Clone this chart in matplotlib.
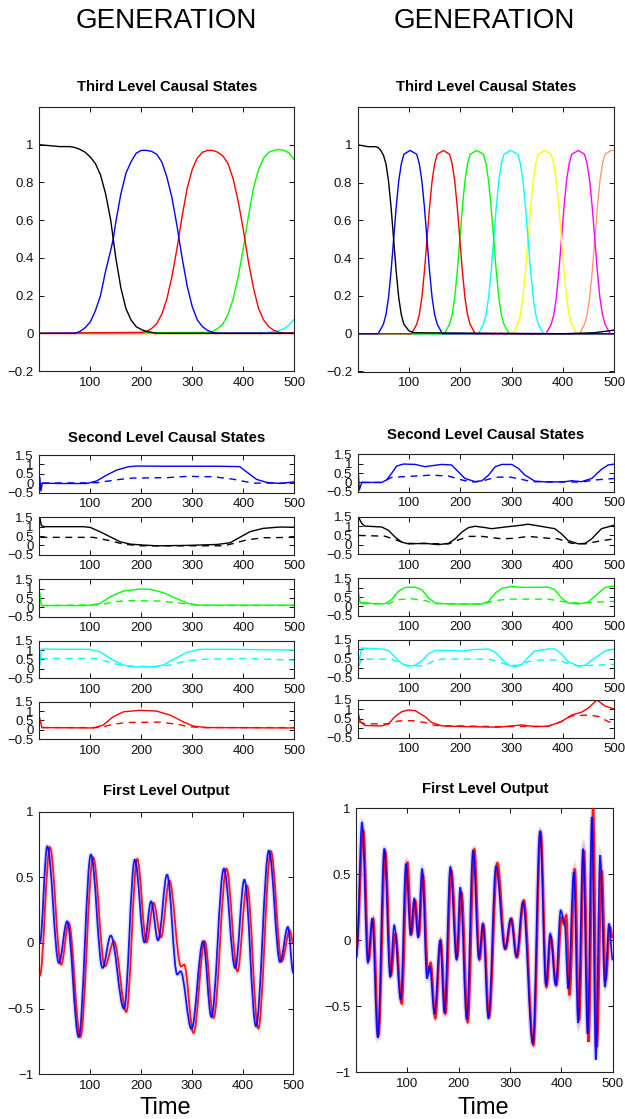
"""Generation traces of a three-level hierarchical model: third level causal
states, second level causal states (solid = states, dashed = causes) and
the first level output, for a slow (left) and a fast (right) sequence."""

import matplotlib
matplotlib.use("Agg")
import matplotlib.pyplot as plt
from matplotlib.path import Path
from matplotlib.patches import PathPatch

plt.rcParams["font.family"] = ["Liberation Sans", "DejaVu Sans"]

W, H = 625, 1119
X_TICKS = [100, 200, 300, 400, 500]
MINUS = "\u2212"

# ---------------------------------------------------------------- third level
# slow sequence (left)
l3_black_t = [0, 20, 40, 60, 70, 80, 90, 100, 110, 120, 130, 140, 145, 150, 160, 170, 180, 190, 200, 210, 230, 500]
l3_black_v = [1.0, 0.995, 0.99, 0.99, 0.985, 0.975, 0.96, 0.935, 0.9, 0.84, 0.74, 0.6, 0.5, 0.4, 0.24, 0.13, 0.07, 0.035, 0.02, 0.01, 0.0, 0.0]
l3_blue_t = [0, 70, 80, 90, 100, 110, 120, 130, 140, 145, 150, 160, 170, 180, 190, 200, 210, 220, 230, 240, 250, 260, 270, 280, 290, 300, 310, 320, 330, 340, 350, 500]
l3_blue_v = [0.0, 0.0, 0.01, 0.03, 0.06, 0.12, 0.2, 0.33, 0.44, 0.5, 0.59, 0.74, 0.85, 0.91, 0.955, 0.97, 0.97, 0.965, 0.95, 0.91, 0.83, 0.72, 0.57, 0.4, 0.25, 0.14, 0.07, 0.035, 0.015, 0.005, 0.0, 0.0]
l3_red_t = [0, 200, 210, 220, 230, 240, 250, 260, 270, 280, 290, 300, 310, 320, 330, 340, 350, 360, 370, 380, 390, 400, 410, 420, 430, 440, 450, 460, 470, 480, 500]
l3_red_v = [0.0, 0.005, 0.01, 0.025, 0.05, 0.1, 0.18, 0.3, 0.45, 0.62, 0.77, 0.87, 0.93, 0.96, 0.97, 0.97, 0.96, 0.94, 0.9, 0.82, 0.7, 0.55, 0.38, 0.24, 0.13, 0.07, 0.035, 0.015, 0.005, 0.0, 0.0]
l3_green_t = [0, 330, 340, 350, 360, 370, 380, 390, 400, 410, 420, 430, 440, 450, 460, 470, 480, 490, 500]
l3_green_v = [0.0, 0.005, 0.01, 0.025, 0.05, 0.1, 0.18, 0.3, 0.45, 0.62, 0.77, 0.87, 0.93, 0.96, 0.97, 0.975, 0.97, 0.955, 0.92]
l3_cyan_t = [0, 440, 460, 470, 480, 490, 500]
l3_cyan_v = [0.0, 0.0, 0.01, 0.015, 0.025, 0.045, 0.075]
l3_rest_t = [0, 500]
l3_rest_v = [0.0, 0.0]

# fast sequence (right): one pulse shape, shifted for each state
r3_black_t = [0, 20, 35, 40, 45, 50, 55, 60, 65, 70, 75, 80, 85, 90, 100, 110, 400, 460, 490, 500]
r3_black_v = [1.0, 0.99, 0.99, 0.985, 0.97, 0.946, 0.9, 0.81, 0.67, 0.5, 0.33, 0.19, 0.1, 0.05, 0.015, 0.005, 0.0, 0.005, 0.015, 0.02]
r3_pulse_v = [0.0, 0.0, 0.05, 0.1, 0.19, 0.33, 0.5, 0.67, 0.81, 0.9, 0.95, 0.97, 0.95, 0.9, 0.81, 0.67, 0.5, 0.33, 0.19, 0.1, 0.05, 0.0, 0.0]
r3_blue_t = [0, 40, 50, 55, 60, 65, 70, 75, 80, 85, 90, 102, 115, 120, 125, 130, 135, 140, 145, 150, 155, 165, 500]
r3_red_t = [0, 105, 115, 120, 125, 130, 135, 140, 145, 150, 155, 167, 179, 184, 189, 194, 199, 204, 209, 214, 219, 229, 500]
r3_green_t = [0, 169, 179, 184, 189, 194, 199, 204, 209, 214, 219, 232, 245, 250, 255, 260, 265, 270, 275, 280, 285, 295, 500]
r3_cyan_t = [0, 235, 245, 250, 255, 260, 265, 270, 275, 280, 285, 298, 312, 317, 322, 327, 332, 337, 342, 347, 352, 362, 500]
r3_yellow_t = [0, 302, 312, 317, 322, 327, 332, 337, 342, 347, 352, 364, 377, 382, 387, 392, 397, 402, 407, 412, 417, 427, 500]
r3_magenta_t = [0, 367, 377, 382, 387, 392, 397, 402, 407, 412, 417, 430, 442, 447, 452, 457, 462, 467, 472, 477, 482, 492, 500]
r3_orange_t = [0, 432, 442, 447, 452, 457, 462, 467, 472, 477, 482, 494, 500]
r3_orange_v = [0.0, 0.0, 0.05, 0.1, 0.19, 0.33, 0.5, 0.67, 0.81, 0.9, 0.95, 0.97, 0.97]

# --------------------------------------------------------------- second level
# slow sequence (left)
l2_blue_t = [1, 3, 6, 40, 93, 112, 132, 152, 175, 191, 250, 300, 350, 393, 406, 426, 446, 472, 500]
l2_blue_v = [0.3, -0.42, 0.0, -0.02, -0.02, 0.11, 0.43, 0.7, 0.875, 0.91, 0.9, 0.9, 0.9, 0.88, 0.61, 0.2, 0.04, -0.02, 0.07]
l2_blue_dt = [6, 112, 158, 184, 250, 289, 341, 380, 406, 420, 500]
l2_blue_dv = [0.0, 0.02, 0.2, 0.27, 0.29, 0.36, 0.34, 0.21, 0.07, 0.0, 0.0]
l2_black_t = [1, 4, 10, 86, 100, 119, 139, 158, 178, 204, 230, 289, 348, 374, 393, 413, 439, 472, 500]
l2_black_v = [1.5, 1.05, 1.0, 1.0, 0.96, 0.73, 0.46, 0.2, 0.07, 0.02, -0.02, 0.0, 0.05, 0.14, 0.43, 0.73, 0.91, 0.98, 0.97]
l2_black_dt = [2, 106, 139, 165, 197, 361, 380, 406, 439, 500]
l2_black_dv = [0.43, 0.43, 0.25, 0.07, -0.02, -0.02, 0.1, 0.29, 0.41, 0.43]
l2_green_t = [1, 4, 93, 119, 139, 165, 197, 217, 243, 269, 292, 315, 500]
l2_green_v = [0.75, 0.1, 0.1, 0.21, 0.57, 0.875, 0.98, 0.97, 0.79, 0.48, 0.21, 0.12, 0.12]
l2_green_dt = [4, 119, 145, 171, 237, 269, 295, 315, 500]
l2_green_dv = [0.1, 0.14, 0.3, 0.36, 0.34, 0.25, 0.16, 0.1, 0.1]
l2_cyan_t = [1, 4, 99, 119, 145, 165, 184, 224, 243, 263, 289, 315, 380, 500]
l2_cyan_v = [0.2, 1.05, 1.04, 0.91, 0.46, 0.2, 0.11, 0.11, 0.2, 0.5, 0.87, 1.04, 1.04, 1.0]
l2_cyan_dt = [3, 112, 139, 165, 230, 256, 289, 328, 413, 500]
l2_cyan_dv = [0.55, 0.55, 0.34, 0.16, 0.11, 0.2, 0.43, 0.52, 0.55, 0.46]
l2_red_t = [1, 5, 106, 125, 145, 165, 197, 230, 256, 282, 302, 328, 500]
l2_red_v = [0.6, 0.12, 0.1, 0.25, 0.7, 0.96, 1.04, 1.0, 0.79, 0.43, 0.2, 0.12, 0.1]
l2_red_dt = [5, 119, 145, 171, 237, 269, 295, 320, 500]
l2_red_dv = [0.12, 0.12, 0.3, 0.39, 0.41, 0.3, 0.16, 0.12, 0.12]

# fast sequence (right)
r2_blue_t = [1, 3, 8, 47, 56, 66, 76, 89, 112, 131, 144, 164, 183, 196, 209, 229, 242, 255, 268, 281, 300, 313, 326, 345, 371, 404, 417, 436, 456, 475, 488, 500]
r2_blue_v = [0.66, -0.41, 0.0, 0.0, 0.13, 0.48, 0.875, 0.98, 0.96, 0.84, 0.89, 0.96, 0.93, 0.57, 0.21, 0.04, 0.09, 0.39, 0.84, 0.96, 0.96, 0.75, 0.39, 0.07, 0.02, 0.04, 0.09, 0.04, 0.21, 0.7, 0.93, 0.98]
r2_blue_dt = [8, 47, 66, 86, 144, 177, 203, 222, 242, 268, 294, 320, 339, 436, 462, 500]
r2_blue_dv = [0.0, 0.0, 0.27, 0.3, 0.39, 0.34, 0.13, 0.02, 0.07, 0.27, 0.3, 0.16, 0.04, 0.02, 0.13, 0.21]
r2_black_t = [1, 8, 14, 47, 60, 73, 86, 99, 131, 157, 177, 190, 203, 216, 229, 248, 261, 287, 320, 332, 365, 384, 397, 410, 430, 443, 456, 475, 500]
r2_black_v = [1.5, 1.14, 1.0, 0.95, 0.77, 0.41, 0.14, 0.05, 0.08, 0.01, 0.08, 0.32, 0.68, 0.92, 0.99, 0.92, 0.86, 0.95, 1.05, 1.1, 0.95, 0.86, 0.59, 0.23, 0.05, 0.08, 0.32, 0.86, 1.05]
r2_black_dt = [2, 53, 73, 92, 177, 196, 216, 242, 281, 306, 332, 371, 390, 417, 443, 469, 500]
r2_black_dv = [0.5, 0.46, 0.28, 0.08, 0.05, 0.26, 0.45, 0.45, 0.32, 0.35, 0.45, 0.35, 0.32, 0.08, 0.05, 0.19, 0.32]
r2_green_t = [1, 5, 11, 34, 53, 66, 79, 92, 112, 125, 138, 151, 177, 242, 255, 268, 281, 300, 326, 371, 384, 397, 410, 430, 449, 469, 482, 500]
r2_green_v = [0.8, 0.18, 0.22, 0.13, 0.15, 0.36, 0.8, 1.01, 1.03, 0.89, 0.45, 0.18, 0.13, 0.13, 0.27, 0.71, 0.97, 1.06, 1.01, 1.03, 0.89, 0.45, 0.18, 0.13, 0.22, 0.71, 1.01, 1.1]
r2_green_dt = [8, 60, 79, 105, 131, 151, 242, 268, 294, 371, 397, 423, 500]
r2_green_dv = [0.15, 0.15, 0.36, 0.41, 0.31, 0.15, 0.13, 0.31, 0.39, 0.39, 0.27, 0.18, 0.27]
r2_cyan_t = [1, 8, 47, 60, 73, 86, 99, 112, 125, 138, 151, 190, 203, 222, 255, 268, 281, 294, 306, 320, 332, 345, 371, 384, 397, 410, 430, 443, 462, 482, 500]
r2_cyan_v = [0.2, 1.07, 1.02, 0.94, 0.57, 0.24, 0.11, 0.15, 0.39, 0.76, 0.94, 0.94, 0.91, 0.98, 1.02, 0.85, 0.48, 0.17, 0.07, 0.2, 0.57, 0.91, 1.02, 1.02, 0.76, 0.35, 0.11, 0.15, 0.54, 0.91, 1.02]
r2_cyan_dt = [2, 8, 66, 86, 99, 131, 151, 164, 255, 274, 294, 313, 332, 358, 391, 410, 430, 456, 500]
r2_cyan_dv = [0.11, 0.48, 0.48, 0.24, 0.11, 0.13, 0.43, 0.48, 0.48, 0.35, 0.15, 0.15, 0.35, 0.43, 0.43, 0.24, 0.11, 0.15, 0.2]
r2_red_t = [1, 5, 14, 47, 60, 73, 86, 99, 112, 131, 144, 164, 209, 274, 320, 345, 371, 397, 417, 436, 449, 466, 482, 500]
r2_red_v = [0.8, 0.35, 0.14, 0.12, 0.23, 0.62, 0.88, 0.97, 0.93, 0.62, 0.3, 0.12, 0.08, 0.05, 0.17, 0.08, 0.1, 0.35, 0.7, 0.85, 1.06, 1.5, 1.18, 1.02]
r2_red_dt = [2, 14, 60, 79, 105, 131, 151, 274, 371, 397, 417, 449, 469, 488, 500]
r2_red_dv = [0.35, 0.23, 0.23, 0.38, 0.4, 0.3, 0.14, 0.08, 0.1, 0.35, 0.65, 0.7, 0.62, 0.35, 0.26]

# ---------------------------------------------------------------- first level
# turning points of the output (blue) and its prediction (red)
l1_blue_t = [1, 15.7, 38.5, 54.8, 77.5, 101.6, 124.4, 140.7, 166.7, 188, 207, 220, 233.8, 251.5, 271.5, 278, 299.6, 322.4, 338.7, 363.3, 385.5, 403.7, 426.5, 451.9, 474, 489.3, 500]
l1_blue_v = [0.0, 0.736, -0.152, 0.165, -0.716, 0.673, -0.19, 0.056, -0.5, 0.634, 0.005, 0.317, 0.02, 0.52, -0.24, -0.215, -0.655, 0.013, -0.563, 0.566, -0.19, 0.482, -0.634, 0.703, -0.145, 0.122, -0.228]
l1_red_t = [1, 20.9, 43, 58, 80.8, 106, 129, 147, 171.3, 192.8, 211, 225, 239.6, 256, 279, 285, 303.5, 325.7, 343, 368.5, 390, 408.9, 431, 455.9, 477.3, 493, 500]
l1_red_v = [-0.25, 0.73, -0.165, 0.152, -0.716, 0.652, -0.178, 0.013, -0.525, 0.64, 0.005, 0.305, 0.043, 0.475, -0.18, -0.165, -0.685, 0.013, -0.571, 0.566, -0.216, 0.437, -0.652, 0.698, -0.14, 0.096, 0.0]

r1_blue_t = [1, 11.7, 23.2, 31.5, 42.4, 55.2, 66.7, 74.4, 87.2, 97.4, 106.4, 113.4, 121, 128.8, 138.4, 143.5, 153, 164, 172.3, 183.8, 196, 203, 215.8, 228, 239.5, 247, 258, 272.7, 290, 301.5, 312.4, 325.2, 344.4, 358.4, 370, 378.3, 389, 398.7, 406, 413.5, 424.3, 432.7, 442.3, 451.2, 459.5, 467.2, 475.5, 485, 492.8, 500]
r1_blue_v = [-0.13, 0.896, -0.17, 0.164, -0.737, 0.694, -0.278, 0.114, -0.45, 0.58, 0.038, 0.316, 0.02, 0.543, -0.29, -0.197, -0.555, 0.0, -0.55, 0.556, -0.15, 0.4, -0.6, 0.68, -0.14, 0.13, -0.593, 0.56, -0.063, 0.164, -0.126, 0.29, -0.78, 0.828, -0.34, 0.05, -0.34, 0.227, 0.14, -0.366, 0.518, -0.626, 0.694, -0.707, 0.934, -0.904, 0.644, -0.354, 0.126, -0.15]
r1_red_t = [1, 14.3, 24.5, 33.5, 43.7, 57, 68, 77, 89, 100, 108.3, 115.4, 122.4, 130.7, 140.3, 145.4, 154.4, 165, 174.2, 185.7, 197.2, 205.6, 217.7, 230.5, 240.8, 248.4, 259.3, 275.3, 291.3, 302.8, 313.7, 327, 345.6, 359.7, 371.2, 379.6, 390.4, 400.7, 405, 409.6, 416, 426.3, 434.6, 444.2, 453, 462, 469, 478.7, 486.4, 494.7, 500]
r1_red_v = [-0.05, 0.83, -0.15, 0.164, -0.72, 0.67, -0.265, 0.05, -0.48, 0.593, 0.05, 0.3, 0.038, 0.49, -0.25, -0.17, -0.59, 0.0, -0.555, 0.525, -0.126, 0.36, -0.62, 0.687, -0.146, 0.114, -0.58, 0.586, -0.068, 0.164, -0.13, 0.303, -0.795, 0.82, -0.354, 0.025, -0.34, 0.177, 0.12, 0.19, -0.417, 0.543, -0.606, 0.68, -0.77, 1.0, -0.81, 0.53, -0.3, 0.1, 0.02]

BLUE, RED, GREEN, CYAN = "#0000ff", "#ff0000", "#00ff00", "#00ffff"
YELLOW, MAGENTA, ORANGE = "#ffff00", "#ff00ff", "#ff9a6a"


def add_axes_px(fig, left, top, right, bottom):
    return fig.add_axes([left / W, 1 - bottom / H, (right - left) / W, (bottom - top) / H])


def label(v):
    s = f"{v:g}"
    return s.replace("-", MINUS)


def style_axes(ax, ylim, yticks):
    ax.set_xlim(0, 500)
    ax.set_ylim(*ylim)
    ax.set_xticks(X_TICKS)
    ax.set_xticklabels([str(t) for t in X_TICKS])
    ax.set_yticks(yticks)
    ax.set_yticklabels([label(v) for v in yticks])
    ax.tick_params(direction="in", top=True, right=True, length=3.5, width=0.7,
                   labelsize=9.5, pad=4, colors="#111111")
    for s in ax.spines.values():
        s.set_linewidth(0.8)
        s.set_color("#222222")


def smooth_trace(ax, t, v, color, lw=1.5, halo=0.12, zorder=2):
    """Draw a smooth curve through turning points (flat tangent at each)."""
    verts = [(t[0], v[0])]
    codes = [Path.MOVETO]
    for i in range(1, len(t)):
        d = (t[i] - t[i - 1]) * 0.36
        verts += [(t[i - 1] + d, v[i - 1]), (t[i] - d, v[i]), (t[i], v[i])]
        codes += [Path.CURVE4] * 3
    path = Path(verts, codes)
    ax.add_patch(PathPatch(path, fill=False, edgecolor=color, lw=3.5, alpha=halo,
                           zorder=zorder))
    ax.add_patch(PathPatch(path, fill=False, edgecolor=color, lw=lw, alpha=0.9,
                           zorder=zorder + 1))


def ftext(x, y, s, **kw):
    fig.text(x / W, 1 - y / H, s, ha="center", **kw)


fig = plt.figure(figsize=(W / 100, H / 100), dpi=100)

# ----- third level
third_y = [-0.2, 0, 0.2, 0.4, 0.6, 0.8, 1]
ax = add_axes_px(fig, 39.3, 107, 294.3, 371)
for c in (MAGENTA, ORANGE, YELLOW):
    ax.plot(l3_rest_t, l3_rest_v, color=c, lw=1.0)
ax.plot(l3_cyan_t, l3_cyan_v, color=CYAN, lw=1.0)
ax.plot(l3_green_t, l3_green_v, color=GREEN, lw=1.0)
ax.plot(l3_red_t, l3_red_v, color=RED, lw=1.0)
ax.plot(l3_blue_t, l3_blue_v, color=BLUE, lw=1.0)
ax.plot(l3_black_t, l3_black_v, color="black", lw=1.0)
style_axes(ax, (-0.2, 1.2), third_y)

ax = add_axes_px(fig, 357.7, 107, 614.3, 371.5)
ax.plot(r3_orange_t, r3_orange_v, color=ORANGE, lw=1.0)
for tt, c in ((r3_magenta_t, MAGENTA), (r3_yellow_t, YELLOW), (r3_cyan_t, CYAN),
              (r3_green_t, GREEN), (r3_red_t, RED), (r3_blue_t, BLUE)):
    ax.plot(tt, r3_pulse_v, color=c, lw=1.0)
ax.plot(r3_black_t, r3_black_v, color="black", lw=1.0)
style_axes(ax, (-0.2, 1.2), third_y)

# ----- second level
second_y = [-0.5, 0, 0.5, 1, 1.5]
dash = (0, (5, 4))
left_rows = [
    (BLUE, l2_blue_t, l2_blue_v, l2_blue_dt, l2_blue_dv),
    ("black", l2_black_t, l2_black_v, l2_black_dt, l2_black_dv),
    (GREEN, l2_green_t, l2_green_v, l2_green_dt, l2_green_dv),
    (CYAN, l2_cyan_t, l2_cyan_v, l2_cyan_dt, l2_cyan_dv),
    (RED, l2_red_t, l2_red_v, l2_red_dt, l2_red_dv),
]
right_rows = [
    (BLUE, r2_blue_t, r2_blue_v, r2_blue_dt, r2_blue_dv),
    ("black", r2_black_t, r2_black_v, r2_black_dt, r2_black_dv),
    (GREEN, r2_green_t, r2_green_v, r2_green_dt, r2_green_dv),
    (CYAN, r2_cyan_t, r2_cyan_v, r2_cyan_dt, r2_cyan_dv),
    (RED, r2_red_t, r2_red_v, r2_red_dt, r2_red_dv),
]
left_tops = [455, 517.3, 579.3, 640.7, 701.7]
right_tops = [454.3, 516.7, 578.3, 640, 700]
for (x0, x1), tops, rows in (((39.3, 294.3), left_tops, left_rows),
                             ((357.7, 614.3), right_tops, right_rows)):
    for top, (c, st, sv, dt, dv) in zip(tops, rows):
        ax = add_axes_px(fig, x0, top, x1, top + 37.5)
        ax.plot(dt, dv, color=c, lw=1.0, linestyle=dash)
        ax.plot(st, sv, color=c, lw=1.0)
        style_axes(ax, (-0.5, 1.5), second_y)

# ----- first level
first_y = [-1, -0.5, 0, 0.5, 1]
ax = add_axes_px(fig, 39.3, 811.7, 293.3, 1074.3)
smooth_trace(ax, l1_red_t, l1_red_v, RED, lw=1.3, halo=0.1)
smooth_trace(ax, l1_blue_t, l1_blue_v, BLUE, lw=1.3, halo=0.1)
style_axes(ax, (-1, 1), first_y)

ax = add_axes_px(fig, 356, 808.3, 612.7, 1072.3)
smooth_trace(ax, r1_red_t, r1_red_v, RED, lw=1.6, halo=0.15)
smooth_trace(ax, r1_blue_t, r1_blue_v, BLUE, lw=1.2, halo=0.12)
style_axes(ax, (-1, 1), first_y)

# ----- headings
for cx in (166.7, 484):
    ftext(cx, 21, "GENERATION", fontsize=20, va="center")
    ftext(cx - 1, 1114, "Time", fontsize=17, va="baseline")
ftext(167, 87, "Third Level Causal States", fontsize=10.7, fontweight="bold", va="center")
ftext(486, 87, "Third Level Causal States", fontsize=10.7, fontweight="bold", va="center")
ftext(166.7, 437.5, "Second Level Causal States", fontsize=10.7, fontweight="bold", va="center")
ftext(486, 435, "Second Level Causal States", fontsize=10.7, fontweight="bold", va="center")
ftext(166, 791.5, "First Level Output", fontsize=10.7, fontweight="bold", va="center")
ftext(485, 788.5, "First Level Output", fontsize=10.7, fontweight="bold", va="center")

fig.savefig("out.png", dpi=100, facecolor="white")
plt.close(fig)
